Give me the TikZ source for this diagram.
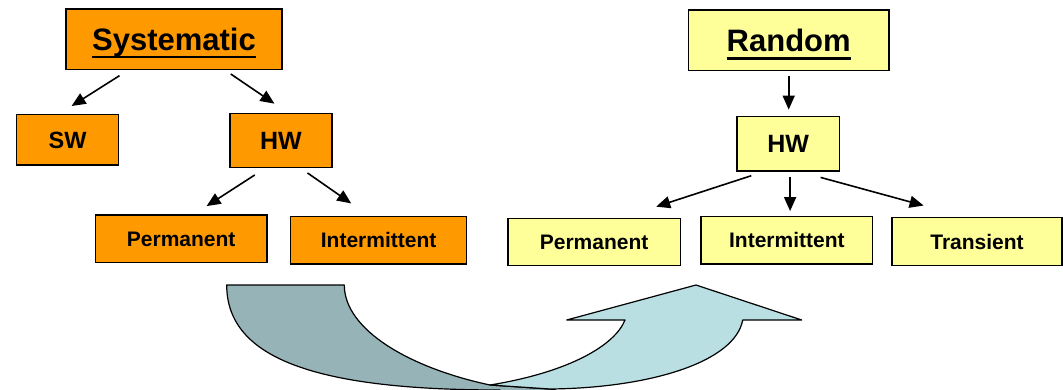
\documentclass[tikz,border=0pt]{standalone}
\usepackage{fontspec}
\setmainfont{Liberation Sans}
\usetikzlibrary{arrows.meta,calc}

\definecolor{sysorange}{RGB}{255,153,0}
\definecolor{randyellow}{RGB}{255,255,153}
\definecolor{tailgrey}{RGB}{150,179,183}
\definecolor{headblue}{RGB}{185,223,227}

% thick underline for the two headings
\newcommand\headline[1]{\setbox0\hbox{#1}\rlap{\rule[-8.2pt]{\wd0}{2.6pt}}\box0}

\begin{document}
\begin{tikzpicture}[x=1pt,y=-1pt,
  box/.style={draw=black,line width=1.3pt,inner sep=0pt,text depth=0pt,
    font=\bfseries},
  title/.style={box,font=\fontsize{31}{31}\selectfont\bfseries,text height=22pt},
  mid/.style={box,font=\fontsize{25}{25}\selectfont\bfseries,text height=18pt},
  leaf/.style={box,font=\fontsize{21}{21}\selectfont\bfseries,text height=15pt},
  arr/.style={line width=1.6pt,-{Triangle[length=14pt,width=12pt]}},
  band/.style={draw=black,line width=1.2pt,line join=round}]

\useasboundingbox (0,0) rectangle (1063,389);
\clip (0,0) rectangle (1063,389);

% systematic branch
\node[title,fill=sysorange,minimum width=216pt,minimum height=60.5pt] (sys) at (174,39.25) {\headline{Systematic}};
\node[box,fill=sysorange,font=\fontsize{23.5}{23.5}\selectfont\bfseries,text height=17pt,
  minimum width=102pt,minimum height=50.7pt] (sw) at (67.6,139.6) {SW};
\node[mid,fill=sysorange,minimum width=102pt,minimum height=53.6pt] (hwL) at (281,140.5) {HW};
\node[leaf,fill=sysorange,minimum width=171.5pt,minimum height=47.7pt] (permL) at (181.2,238.9) {Permanent};
\node[leaf,fill=sysorange,minimum width=176pt,minimum height=47.3pt] (intL) at (378.6,240.4) {Intermittent};

% random branch
\node[title,fill=randyellow,minimum width=200.4pt,minimum height=60.7pt] (rand) at (788.7,40.4) {\headline{Random}};
\node[mid,fill=randyellow,minimum width=102.3pt,minimum height=54.3pt] (hwR) at (788.2,143.9) {HW};
\node[leaf,fill=randyellow,minimum width=172.4pt,minimum height=47.4pt] (permR) at (594.1,242) {Permanent};
\node[leaf,fill=randyellow,minimum width=171.7pt,minimum height=47.3pt] (intR) at (786.9,240.4) {Intermittent};
\node[leaf,fill=randyellow,minimum width=170pt,minimum height=47.4pt] (trans) at (977,241.5) {Transient};

% connectors
\draw[arr] ($(sys.south)+(-54.5,5.5)$) -- ($(sw.north)+(4,-7.6)$);
\draw[arr] ($(sys.south)+(56.7,3.8)$) -- ($(hwL.north)+(-6.6,-9.4)$);
\draw[arr] ($(hwL.south)+(-26.2,7)$) -- ($(permL.north)+(25.4,-8.3)$);
\draw[arr] ($(hwL.south)+(26.5,5)$) -- ($(intL.north)+(-27.4,-12.7)$);
\draw[arr] ($(rand.south)+(0,4.5)$) -- ($(hwR.north)+(0.5,-6.5)$);
\draw[arr] ($(hwR.south)+(-36.9,4)$) -- ($(permR.north)+(62.1,-11)$);
\draw[arr] ($(hwR.south)+(1.9,5)$) -- ($(intR.north)+(3.2,-5)$);
\draw[arr] ($(hwR.south)+(32.4,5.7)$) -- ($(trans.north)+(-53.4,-11.6)$);

% curved arrow: grey tail sweeping down, blue head rising up
\draw[band,fill=tailgrey] (226.7,285) -- (344.3,285)
  .. controls (344.3,330) and (410,368) .. (490,385)
  -- (555,389.4) -- (555,400) -- (500,400) -- (500,390)
  .. controls (320,390) and (226.7,360) .. (226.7,285) -- cycle;
\draw[band,fill=headblue] (490,385)
  .. controls (570,372) and (615,345) .. (625,320)
  -- (566.7,320) -- (696,285) -- (801.7,320) -- (742.7,320)
  .. controls (735,362) and (650,388) .. (550,389)
  -- cycle;
\end{tikzpicture}
\end{document}
